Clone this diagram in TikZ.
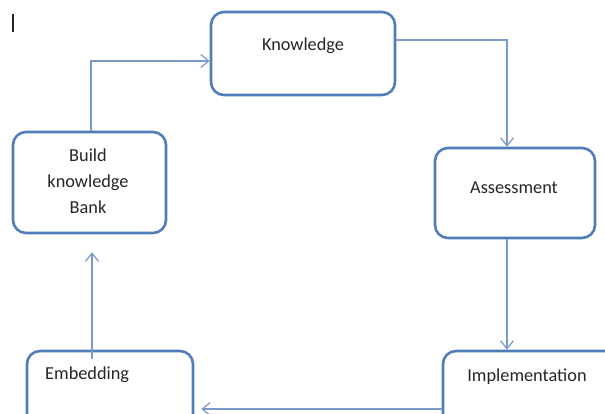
\documentclass[tikz,border=0pt]{standalone}
\usepackage{fontspec}
\setmainfont{Carlito}
\usetikzlibrary{arrows.meta}
\definecolor{boxblue}{RGB}{79,125,185}
\definecolor{linkblue}{RGB}{122,154,202}
\definecolor{txt}{RGB}{38,38,38}
\begin{document}
\begin{tikzpicture}[x=1pt,y=-1pt,
  box/.style={draw=boxblue, line width=2.6pt, rounded corners=13pt, fill=white, inner sep=0pt},
  lbl/.style={text=txt, font=\fontsize{18.3}{26}\selectfont, inner sep=0pt},
  conn/.style={draw=linkblue, line width=1.2pt, -{Straight Barb[length=8pt,width=13pt]}}]
\useasboundingbox (0,0) rectangle (605,414);
\clip (0,0) rectangle (605,414);
\fill[white] (0,0) rectangle (605,414);
% cursor mark
\coordinate (c1) at (13,14);
\coordinate (c2) at (13,32);
\draw[txt, line width=1.3pt] (c1) -- (c2);
% boxes
\node[box, minimum width=184pt, minimum height=83pt] (know) at (303,53.5) {};
\node[box, minimum width=153pt, minimum height=101pt] (build) at (89.5,182.5) {};
\node[box, minimum width=160pt, minimum height=90pt] (assess) at (515,193) {};
\node[box, minimum width=166pt, minimum height=79pt] (embed) at (110,390.5) {};
\node[box, minimum width=177pt, minimum height=79pt] (impl) at (531.5,390.5) {};
% texts
\node[lbl] (knowt) at (303,46) {Knowledge};
\node[lbl, align=center] (buildt) at (88,181) {Build\\knowledge\\Bank};
\node[lbl] (assesst) at (514,188) {Assessment};
\node[lbl, anchor=west] (embedt) at (45,375) {Embedding};
\node[lbl] (implt) at (527,377) {Implementation};
% connectors
\draw[conn] ([xshift=1.5pt]build.north) |- ([yshift=-7.5pt]know.west);
\draw[conn] ([yshift=13.5pt]know.east) -| ([xshift=-8pt]assess.north);
\draw[conn] ([xshift=-8pt]assess.south) -- ([xshift=-8pt]assess.south |- impl.north);
\draw[conn, shorten >=7pt] ([yshift=-18.5pt]impl.west) -- ([yshift=-18.5pt]embed.east);
\draw[conn, shorten >=18pt] ([xshift=-18pt,yshift=-9pt]embed.north) -- ([xshift=2.5pt]build.south);
\end{tikzpicture}
\end{document}
